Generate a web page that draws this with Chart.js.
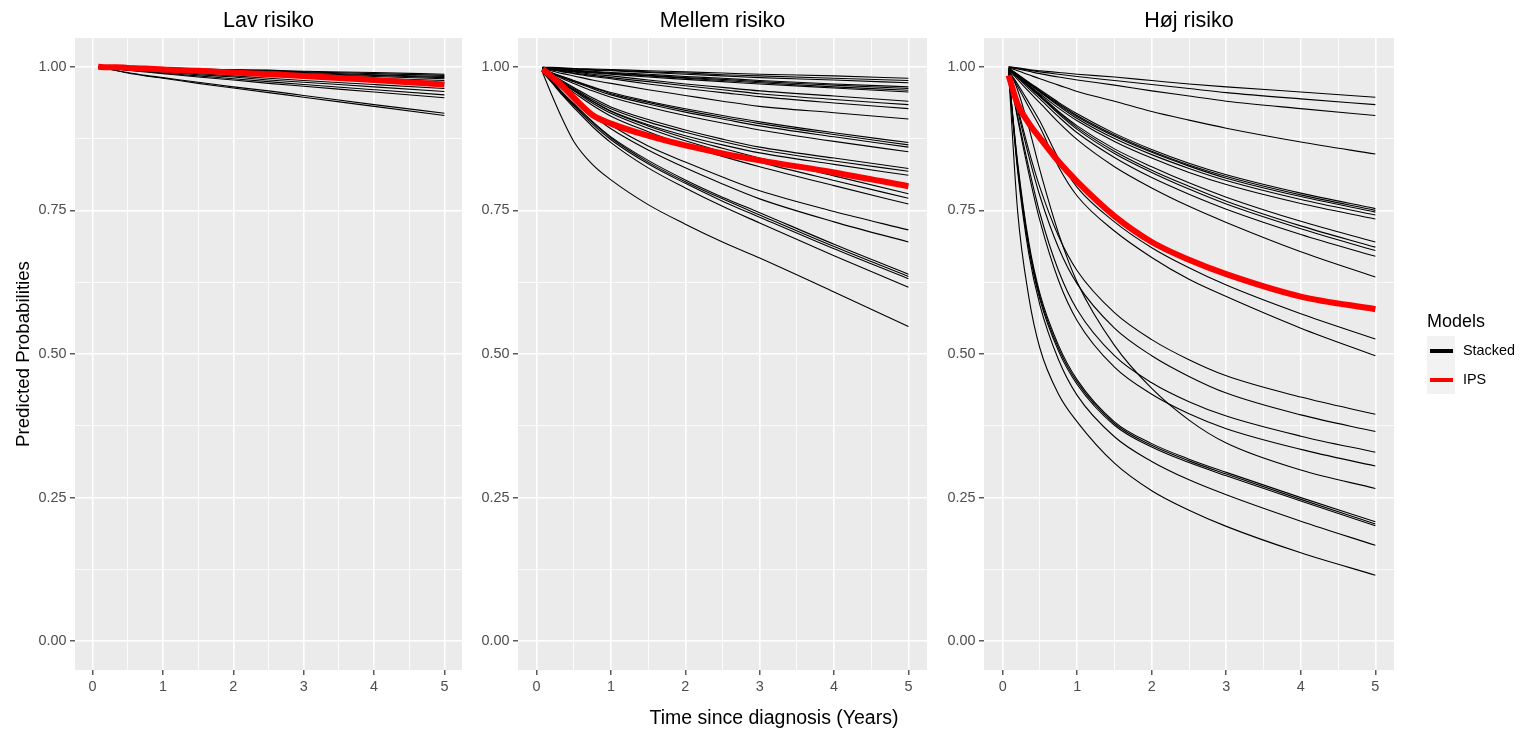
<!DOCTYPE html>
<html>
<head>
<meta charset="utf-8">
<script src="https://cdn.jsdelivr.net/npm/chart.js@4.4.1/dist/chart.umd.min.js"></script>
<style>
html,body{margin:0;padding:0;background:#ffffff;width:1525px;height:733px;overflow:hidden;}
.wrap{position:absolute;top:0;height:733px;}
canvas{display:block;}
</style>
</head>
<body>
<div class="wrap" style="left:0px;width:462px;"><canvas id="c1"></canvas></div>
<div class="wrap" style="left:462px;width:465px;"><canvas id="c2"></canvas></div>
<div class="wrap" style="left:154px;width:1371px;"><canvas id="c3"></canvas></div>
<script>
// ---------------- DATA ----------------
const panelTitles = ['Lav risiko', 'Mellem risiko', 'Høj risiko'];
const xAxisTitle = 'Time since diagnosis (Years)';
const yAxisTitle = 'Predicted Probabilities';
const legendTitle = 'Models';
const seriesNames = ['Stacked', 'IPS'];
const xTickValues = [0, 1, 2, 3, 4, 5];
const xTickLabels = ['0', '1', '2', '3', '4', '5'];
const yTickValues = [0, 0.25, 0.5, 0.75, 1];
const yTickLabels = ['0.00', '0.25', '0.50', '0.75', '1.00'];

const timePoints = [0.08, 0.2, 0.35, 0.5, 0.75, 1, 1.5, 2, 2.5, 3, 4, 5];

const lavStacked = [
  [1.000, 1.000, 0.999, 0.999, 0.998, 0.998, 0.996, 0.995, 0.994, 0.992, 0.990, 0.987],
  [1.000, 1.000, 0.999, 0.999, 0.998, 0.997, 0.996, 0.994, 0.993, 0.991, 0.988, 0.985],
  [1.000, 0.999, 0.999, 0.998, 0.997, 0.996, 0.995, 0.993, 0.991, 0.990, 0.986, 0.983],
  [1.000, 0.999, 0.999, 0.998, 0.997, 0.996, 0.994, 0.992, 0.990, 0.988, 0.985, 0.981],
  [1.000, 0.999, 0.998, 0.998, 0.997, 0.995, 0.993, 0.991, 0.989, 0.987, 0.983, 0.979],
  [1.000, 0.999, 0.998, 0.997, 0.996, 0.995, 0.992, 0.990, 0.988, 0.985, 0.980, 0.976],
  [1.000, 0.999, 0.998, 0.997, 0.996, 0.994, 0.991, 0.988, 0.985, 0.982, 0.977, 0.972],
  [1.000, 0.999, 0.997, 0.996, 0.994, 0.992, 0.988, 0.984, 0.980, 0.976, 0.969, 0.962],
  [1.000, 0.999, 0.997, 0.995, 0.993, 0.991, 0.986, 0.982, 0.977, 0.973, 0.965, 0.957],
  [1.000, 0.998, 0.996, 0.994, 0.992, 0.989, 0.984, 0.979, 0.974, 0.969, 0.960, 0.951],
  [1.000, 0.998, 0.996, 0.994, 0.991, 0.988, 0.982, 0.977, 0.971, 0.966, 0.956, 0.946],
  [1.000, 0.997, 0.993, 0.990, 0.985, 0.981, 0.973, 0.965, 0.958, 0.950, 0.934, 0.919],
  [1.000, 0.997, 0.993, 0.989, 0.984, 0.980, 0.971, 0.963, 0.955, 0.947, 0.931, 0.915]
];
const lavIPS = [1.000, 0.999, 0.999, 0.998, 0.997, 0.995, 0.993, 0.990, 0.987, 0.984, 0.977, 0.969];

const mellemStacked = [
  [0.999, 0.999, 0.998, 0.997, 0.996, 0.995, 0.993, 0.991, 0.989, 0.987, 0.984, 0.980],
  [0.999, 0.998, 0.997, 0.996, 0.995, 0.994, 0.991, 0.989, 0.986, 0.984, 0.980, 0.976],
  [0.999, 0.998, 0.997, 0.996, 0.994, 0.993, 0.990, 0.987, 0.984, 0.981, 0.977, 0.972],
  [0.998, 0.997, 0.996, 0.994, 0.992, 0.990, 0.987, 0.983, 0.980, 0.976, 0.970, 0.965],
  [0.998, 0.997, 0.995, 0.994, 0.991, 0.989, 0.985, 0.981, 0.978, 0.974, 0.968, 0.962],
  [0.998, 0.997, 0.995, 0.993, 0.990, 0.988, 0.984, 0.980, 0.976, 0.972, 0.965, 0.959],
  [0.998, 0.996, 0.994, 0.992, 0.989, 0.987, 0.982, 0.978, 0.974, 0.970, 0.963, 0.956],
  [0.998, 0.996, 0.993, 0.991, 0.987, 0.984, 0.977, 0.970, 0.964, 0.958, 0.949, 0.940],
  [0.998, 0.995, 0.992, 0.989, 0.985, 0.981, 0.974, 0.967, 0.960, 0.953, 0.943, 0.934],
  [0.997, 0.995, 0.991, 0.988, 0.983, 0.979, 0.970, 0.962, 0.955, 0.948, 0.937, 0.927],
  [0.997, 0.993, 0.988, 0.984, 0.977, 0.971, 0.960, 0.950, 0.940, 0.931, 0.920, 0.909],
  [0.996, 0.990, 0.983, 0.976, 0.965, 0.955, 0.940, 0.927, 0.915, 0.904, 0.885, 0.868],
  [0.996, 0.989, 0.982, 0.975, 0.964, 0.953, 0.938, 0.924, 0.912, 0.901, 0.882, 0.864],
  [0.996, 0.989, 0.981, 0.974, 0.962, 0.951, 0.935, 0.921, 0.909, 0.897, 0.878, 0.860],
  [0.995, 0.988, 0.979, 0.971, 0.958, 0.947, 0.930, 0.915, 0.902, 0.890, 0.870, 0.852],
  [0.995, 0.986, 0.975, 0.964, 0.946, 0.930, 0.908, 0.890, 0.874, 0.860, 0.841, 0.823],
  [0.995, 0.985, 0.973, 0.962, 0.943, 0.927, 0.904, 0.886, 0.870, 0.856, 0.836, 0.818],
  [0.994, 0.984, 0.971, 0.959, 0.940, 0.923, 0.899, 0.880, 0.864, 0.850, 0.830, 0.811],
  [0.995, 0.985, 0.972, 0.960, 0.940, 0.922, 0.897, 0.876, 0.858, 0.841, 0.810, 0.779],
  [0.995, 0.984, 0.970, 0.958, 0.937, 0.919, 0.893, 0.871, 0.852, 0.834, 0.802, 0.771],
  [0.994, 0.983, 0.968, 0.955, 0.933, 0.914, 0.887, 0.864, 0.844, 0.826, 0.793, 0.761],
  [0.993, 0.979, 0.962, 0.945, 0.920, 0.898, 0.862, 0.834, 0.808, 0.784, 0.748, 0.716],
  [0.993, 0.978, 0.960, 0.943, 0.916, 0.892, 0.855, 0.824, 0.796, 0.770, 0.730, 0.695],
  [0.992, 0.976, 0.955, 0.936, 0.905, 0.878, 0.837, 0.803, 0.773, 0.746, 0.691, 0.639],
  [0.992, 0.975, 0.954, 0.934, 0.903, 0.876, 0.834, 0.800, 0.770, 0.742, 0.687, 0.635],
  [0.991, 0.974, 0.952, 0.932, 0.900, 0.873, 0.831, 0.797, 0.766, 0.738, 0.683, 0.631],
  [0.991, 0.973, 0.950, 0.929, 0.896, 0.868, 0.824, 0.789, 0.757, 0.728, 0.671, 0.616],
  [0.990, 0.952, 0.908, 0.870, 0.830, 0.803, 0.760, 0.726, 0.695, 0.667, 0.608, 0.548]
];
const mellemIPS = [0.996, 0.983, 0.966, 0.946, 0.916, 0.901, 0.880, 0.863, 0.849, 0.837, 0.816, 0.792];

const hojStacked = [
  [1.000, 0.998, 0.995, 0.993, 0.990, 0.987, 0.982, 0.976, 0.970, 0.965, 0.956, 0.947],
  [1.000, 0.997, 0.994, 0.991, 0.987, 0.983, 0.976, 0.969, 0.962, 0.955, 0.944, 0.934],
  [0.999, 0.996, 0.992, 0.988, 0.982, 0.977, 0.968, 0.958, 0.949, 0.940, 0.927, 0.915],
  [0.998, 0.993, 0.986, 0.979, 0.968, 0.957, 0.940, 0.922, 0.907, 0.893, 0.869, 0.848],
  [0.997, 0.987, 0.973, 0.960, 0.938, 0.918, 0.884, 0.856, 0.832, 0.812, 0.780, 0.753],
  [0.997, 0.986, 0.972, 0.958, 0.936, 0.915, 0.881, 0.853, 0.829, 0.809, 0.777, 0.750],
  [0.997, 0.986, 0.971, 0.957, 0.934, 0.913, 0.879, 0.851, 0.827, 0.806, 0.774, 0.747],
  [0.996, 0.985, 0.970, 0.956, 0.932, 0.910, 0.875, 0.847, 0.823, 0.802, 0.769, 0.742],
  [0.996, 0.984, 0.968, 0.953, 0.928, 0.906, 0.870, 0.841, 0.816, 0.795, 0.762, 0.735],
  [0.996, 0.984, 0.967, 0.951, 0.922, 0.897, 0.857, 0.826, 0.798, 0.773, 0.731, 0.695],
  [0.996, 0.983, 0.966, 0.949, 0.920, 0.894, 0.853, 0.820, 0.792, 0.766, 0.723, 0.686],
  [0.996, 0.983, 0.965, 0.948, 0.918, 0.891, 0.849, 0.816, 0.787, 0.761, 0.718, 0.680],
  [0.995, 0.981, 0.962, 0.944, 0.913, 0.885, 0.842, 0.807, 0.778, 0.752, 0.708, 0.670],
  [0.995, 0.978, 0.957, 0.937, 0.903, 0.873, 0.826, 0.789, 0.757, 0.729, 0.678, 0.634],
  [0.993, 0.970, 0.938, 0.905, 0.840, 0.790, 0.730, 0.685, 0.650, 0.620, 0.570, 0.526],
  [0.992, 0.966, 0.930, 0.895, 0.826, 0.775, 0.714, 0.668, 0.630, 0.600, 0.545, 0.497],
  [0.995, 0.930, 0.855, 0.790, 0.705, 0.645, 0.572, 0.525, 0.490, 0.462, 0.425, 0.395],
  [0.995, 0.925, 0.845, 0.775, 0.685, 0.622, 0.545, 0.497, 0.461, 0.432, 0.394, 0.365],
  [0.994, 0.915, 0.825, 0.745, 0.645, 0.577, 0.497, 0.450, 0.417, 0.392, 0.357, 0.329],
  [0.994, 0.910, 0.815, 0.732, 0.628, 0.558, 0.477, 0.430, 0.396, 0.370, 0.334, 0.305],
  [0.996, 0.960, 0.895, 0.820, 0.710, 0.625, 0.515, 0.440, 0.385, 0.345, 0.298, 0.266],
  [0.990, 0.835, 0.695, 0.605, 0.515, 0.455, 0.382, 0.344, 0.317, 0.294, 0.250, 0.208],
  [0.990, 0.830, 0.690, 0.600, 0.510, 0.451, 0.379, 0.341, 0.314, 0.291, 0.247, 0.204],
  [0.990, 0.825, 0.685, 0.595, 0.505, 0.447, 0.376, 0.338, 0.311, 0.288, 0.244, 0.201],
  [0.990, 0.820, 0.675, 0.585, 0.490, 0.428, 0.356, 0.313, 0.281, 0.255, 0.209, 0.167],
  [0.990, 0.750, 0.600, 0.510, 0.430, 0.382, 0.310, 0.262, 0.228, 0.200, 0.154, 0.115]
];
const hojIPS = [0.985, 0.935, 0.902, 0.876, 0.835, 0.800, 0.740, 0.695, 0.664, 0.639, 0.600, 0.578];

// ---------------- STYLE / LAYOUT ----------------
Chart.defaults.font.family = '"Liberation Sans", Arial, Helvetica, sans-serif';
Chart.defaults.animation = false;

const PANEL_BG = '#EBEBEB';
const PANEL_BOTTOM = 670;
const CANVAS_H = 733;
const XTITLE_SIZE = 19.5;
const XTITLE_PAD_BOTTOM = 2.3;
const XTITLE_BOX = XTITLE_SIZE * 1.2 + XTITLE_PAD_BOTTOM;

const xMinorValues = [];
for (let i = 0; i < xTickValues.length; i++) {
  xMinorValues.push(xTickValues[i]);
  if (i < xTickValues.length - 1) xMinorValues.push((xTickValues[i] + xTickValues[i + 1]) / 2);
}
const yMinorValues = [];
for (let i = 0; i < yTickValues.length; i++) {
  yMinorValues.push(yTickValues[i]);
  if (i < yTickValues.length - 1) yMinorValues.push((yTickValues[i] + yTickValues[i + 1]) / 2);
}
function majorIndex(list, v) {
  for (let i = 0; i < list.length; i++) if (Math.abs(list[i] - v) < 1e-9) return i;
  return -1;
}

const panelBg = {
  id: 'panelBg',
  beforeDraw(chart) {
    const a = chart.chartArea, ctx = chart.ctx;
    ctx.save();
    ctx.fillStyle = PANEL_BG;
    ctx.fillRect(a.left, a.top, a.right - a.left, a.bottom - a.top);
    ctx.restore();
  }
};

const ggLegend = {
  id: 'ggLegend',
  afterDraw(chart) {
    const a = chart.chartArea, ctx = chart.ctx;
    const x0 = a.right + 33;
    const cy = (a.top + a.bottom) / 2;
    ctx.save();
    ctx.textBaseline = 'middle';
    ctx.textAlign = 'left';
    ctx.fillStyle = '#000';
    ctx.font = '18px "Liberation Sans", Arial, sans-serif';
    ctx.fillText(legendTitle, x0, cy - 32);
    const keys = [{c: '#000000', y: cy - 3}, {c: '#FF0000', y: cy + 26}];
    keys.forEach((k, i) => {
      ctx.fillStyle = '#F2F2F2';
      ctx.fillRect(x0, k.y - 15, 28, 29);
      ctx.strokeStyle = k.c;
      ctx.lineWidth = 4;
      ctx.beginPath();
      ctx.moveTo(x0 + 3, k.y);
      ctx.lineTo(x0 + 26, k.y);
      ctx.stroke();
      ctx.fillStyle = '#000';
      ctx.font = '14.4px "Liberation Sans", Arial, sans-serif';
      ctx.fillText(seriesNames[i], x0 + 36, k.y);
    });
    ctx.restore();
  }
};

function makeDatasets(stacked, ips) {
  const ds = stacked.map(vals => ({
    label: seriesNames[0],
    data: vals.map((v, i) => ({x: timePoints[i], y: v})),
    borderColor: '#000000',
    borderWidth: 1.1,
    pointRadius: 0,
    fill: false,
    cubicInterpolationMode: 'monotone'
  }));
  ds.push({
    label: seriesNames[1],
    data: ips.map((v, i) => ({x: timePoints[i], y: v})),
    borderColor: '#FF0000',
    borderWidth: 6,
    pointRadius: 0,
    fill: false,
    order: -1,
    cubicInterpolationMode: 'monotone'
  });
  return ds;
}

function gridOpts(majors) {
  return {
    color: '#FFFFFF',
    lineWidth: c => (c.tick && majorIndex(majors, c.tick.value) >= 0) ? 1.6 : 0.8,
    tickColor: c => (c.tick && majorIndex(majors, c.tick.value) >= 0) ? '#333333' : 'rgba(0,0,0,0)',
    tickWidth: 1.2,
    tickLength: 5,
    drawTicks: true
  };
}

function makeChart(id, opts) {
  return new Chart(document.getElementById(id), {
    type: 'line',
    data: {datasets: makeDatasets(opts.stacked, opts.ips)},
    options: {
      responsive: true,
      maintainAspectRatio: false,
      animation: false,
      events: [],
      layout: {padding: {left: 0, right: opts.padRight, top: 0, bottom: 0}},
      plugins: {
        legend: {display: false},
        tooltip: {enabled: false},
        title: {
          display: true, text: opts.title, fullSize: false,
          color: '#000000', font: {size: 21.5, weight: 'normal'},
          padding: {top: 8, bottom: 4.2}
        },
        subtitle: opts.subtitle ? {
          display: true, text: opts.subtitle, position: 'bottom', align: 'center',
          color: '#000000', font: {size: XTITLE_SIZE, weight: 'normal'},
          padding: {top: 0, bottom: XTITLE_PAD_BOTTOM}
        } : {display: false}
      },
      scales: {
        x: {
          type: 'linear', min: -0.25, max: 5.25,
          afterBuildTicks: s => { s.ticks = xMinorValues.map(v => ({value: v})); },
          afterFit: s => { s.height = opts.xHeight; },
          ticks: {
            autoSkip: false, maxRotation: 0, minRotation: 0,
            color: '#4D4D4D', font: {size: 14.4}, padding: 3,
            callback: v => { const i = majorIndex(xTickValues, v); return i >= 0 ? xTickLabels[i] : ''; }
          },
          grid: gridOpts(xTickValues),
          border: {display: false}
        },
        y: {
          type: 'linear', min: -0.05, max: 1.05,
          afterBuildTicks: s => { s.ticks = yMinorValues.map(v => ({value: v})); },
          afterFit: s => { s.width = opts.yWidth; },
          ticks: {
            autoSkip: false,
            color: '#4D4D4D', font: {size: 14.4}, padding: 3.5,
            callback: v => { const i = majorIndex(yTickValues, v); return i >= 0 ? yTickLabels[i] : ''; }
          },
          grid: gridOpts(yTickValues),
          border: {display: false},
          title: opts.yTitle ? {
            display: true, text: opts.yTitle, color: '#000000',
            font: {size: 18.7}, padding: {top: 12.8, bottom: 0}
          } : {display: false}
        }
      }
    },
    plugins: opts.legend ? [panelBg, ggLegend] : [panelBg]
  });
}

makeChart('c1', {stacked: lavStacked, ips: lavIPS, title: panelTitles[0], yWidth: 75, padRight: 0,
  xHeight: CANVAS_H - PANEL_BOTTOM, yTitle: yAxisTitle});
makeChart('c2', {stacked: mellemStacked, ips: mellemIPS, title: panelTitles[1], yWidth: 56, padRight: 0,
  xHeight: CANVAS_H - PANEL_BOTTOM});
// third panel: its y-axis box reaches back to x=154 so the shared x-axis title (subtitle) is centred on the figure
makeChart('c3', {stacked: hojStacked, ips: hojIPS, title: panelTitles[2], yWidth: 830, padRight: 131,
  xHeight: CANVAS_H - XTITLE_BOX - PANEL_BOTTOM, subtitle: xAxisTitle, legend: true});
</script>
</body>
</html>
